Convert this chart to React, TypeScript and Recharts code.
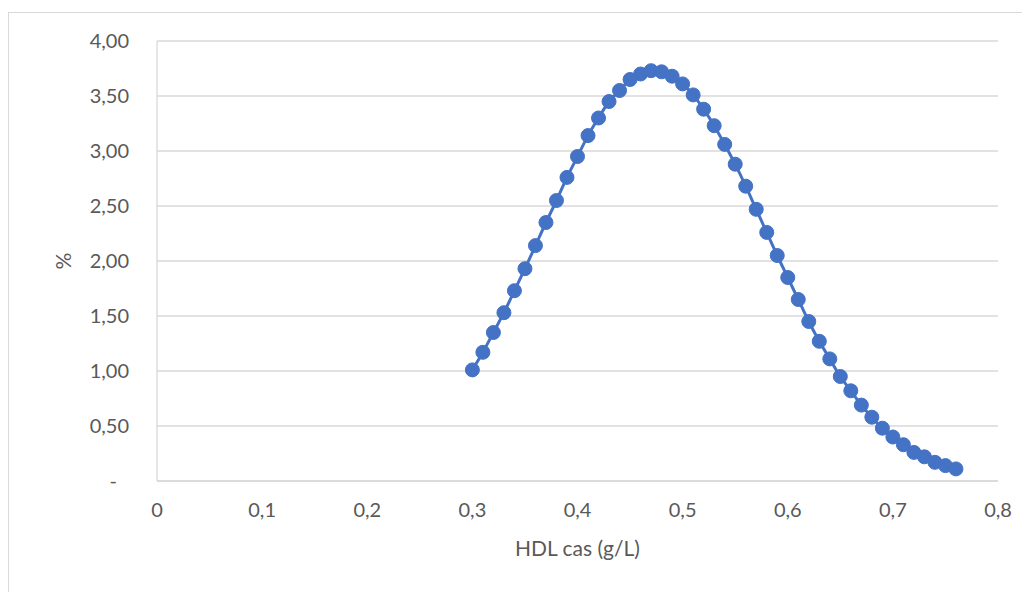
import React from 'react';
import { LineChart, Line, XAxis, YAxis, CartesianGrid } from 'recharts';

// HDL values (g/L) and share (%)
const hdlValues = [
    0.30, 0.31, 0.32, 0.33, 0.34, 0.35, 0.36, 0.37, 0.38, 0.39,
    0.40, 0.41, 0.42, 0.43, 0.44, 0.45, 0.46, 0.47, 0.48, 0.49,
    0.50, 0.51, 0.52, 0.53, 0.54, 0.55, 0.56, 0.57, 0.58, 0.59,
    0.60, 0.61, 0.62, 0.63, 0.64, 0.65, 0.66, 0.67, 0.68, 0.69,
    0.70, 0.71, 0.72, 0.73, 0.74, 0.75, 0.76,
];
const percentValues = [
    1.01, 1.17, 1.35, 1.53, 1.73, 1.93, 2.14, 2.35, 2.55, 2.76,
    2.95, 3.14, 3.30, 3.45, 3.55, 3.65, 3.70, 3.73, 3.72, 3.68,
    3.61, 3.51, 3.38, 3.23, 3.06, 2.88, 2.68, 2.47, 2.26, 2.05,
    1.85, 1.65, 1.45, 1.27, 1.11, 0.95, 0.82, 0.69, 0.58, 0.48,
    0.40, 0.33, 0.26, 0.22, 0.17, 0.14, 0.11,
];
const xTicks = [0, 0.1, 0.2, 0.3, 0.4, 0.5, 0.6, 0.7, 0.8];
const yTicks = [0, 0.5, 1, 1.5, 2, 2.5, 3, 3.5, 4];

const data = hdlValues.map((x, i) => ({ x, y: percentValues[i] }));

const FONT = 'Lato, "Open Sans", sans-serif';
const TEXT = '#595959';
const BLUE = '#4472C4';

// y ticks in excel accounting style: zero shows as a dash
const YTick = (props: any) => {
    const { x, y, payload } = props;
    const v: number = payload.value;
    const isZero = v === 0;
    return (
        <text x={isZero ? x - 12 : x} y={y} dy={7} textAnchor="end" fill={TEXT}
            fontFamily={FONT} fontSize={20}>
            {isZero ? '-' : v.toFixed(2).replace('.', ',')}
        </text>
    );
};

const xFmt = (v: number) => (v === 0 ? '0' : String(Math.round(v * 10) / 10).replace('.', ','));

export default function App() {
    return (
        <div style={{ marginTop: 4, width: 1016, height: 600, border: '1px solid #d9d9d9', background: '#fff' }}>
            <LineChart width={1016} height={578} data={data}
                margin={{ top: 28, right: 27, left: 0, bottom: 30 }}>
                <CartesianGrid vertical={false} stroke="#d9d9d9" strokeWidth={1.3} />
                <XAxis dataKey="x" type="number" domain={[0, 0.8]} ticks={xTicks}
                    tickFormatter={xFmt} axisLine={{ stroke: '#d9d9d9', strokeWidth: 1.3 }}
                    tickLine={false} tickSize={0} tickMargin={22} height={80}
                    tick={{ fill: TEXT, fontFamily: FONT, fontSize: 20 }}
                    label={{ value: 'HDL cas (g/L)', position: 'insideBottom', offset: 5,
                        fill: TEXT, fontFamily: FONT, fontSize: 21 }} />
                <YAxis type="number" domain={[0, 4]} ticks={yTicks} width={148}
                    axisLine={{ stroke: '#d9d9d9', strokeWidth: 1.3 }} tickLine={false}
                    tickSize={0} tickMargin={28} tick={<YTick />}
                    label={({ viewBox }: any) => (
                        <text x={viewBox.x + 53} y={viewBox.y + viewBox.height / 2}
                            transform={`rotate(-90, ${viewBox.x + 53}, ${viewBox.y + viewBox.height / 2})`}
                            textAnchor="middle" dominantBaseline="central" fill={TEXT}
                            fontFamily={FONT} fontSize={21}>%</text>
                    )} />
                <Line type="monotone" dataKey="y" stroke={BLUE} strokeWidth={3}
                    dot={{ r: 7, fill: BLUE, stroke: BLUE, strokeWidth: 1 }}
                    isAnimationActive={false} />
            </LineChart>
        </div>
    );
}
